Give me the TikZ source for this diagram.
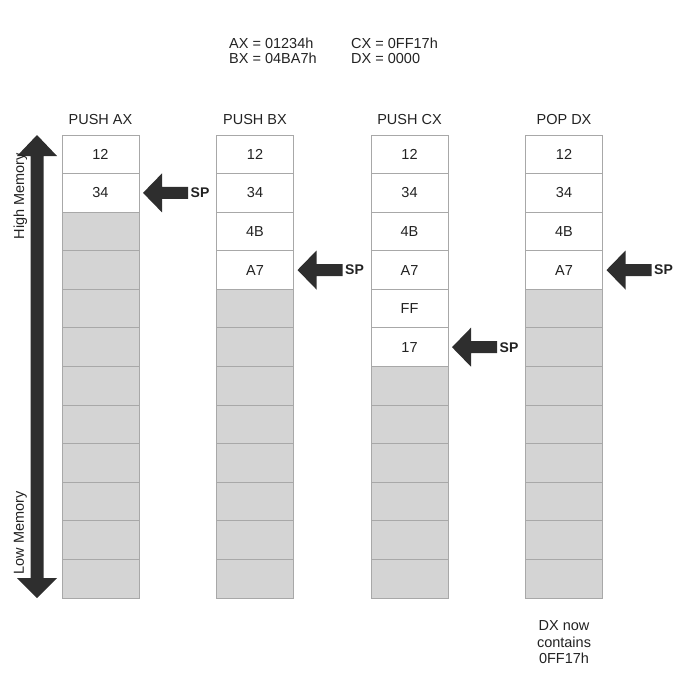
\documentclass[tikz,border=0pt]{standalone}
\usepackage{fontspec}
\setmainfont{Liberation Sans}
\definecolor{cellborder}{HTML}{A8A8A8}
\definecolor{cellgray}{HTML}{D4D4D4}
\definecolor{arrowc}{HTML}{2E2E2E}
\definecolor{txt}{HTML}{222222}
\begin{document}
\begin{tikzpicture}[x=1pt,y=-1pt,
  cell/.style={draw=cellborder, line width=0.9pt, minimum width=77pt, minimum height=38.6pt, inner sep=0pt, outer sep=0pt, font=\fontsize{14.5}{16}\selectfont, text=txt},
  fullcell/.style={cell, fill=white},
  emptycell/.style={cell, fill=cellgray},
  lbl/.style={font=\fontsize{14.5}{16.5}\selectfont, text=txt, inner sep=0pt},
  splbl/.style={font=\fontsize{14}{15}\selectfont\bfseries, text=txt, inner sep=0pt, anchor=west},
  ptr/.style={fill=arrowc}]
\useasboundingbox (0,0) rectangle (679,675);

% register values
\node[lbl, anchor=base west] (ax) at (229,48) {AX = 01234h};
\node[lbl, anchor=base west] (bx) at (229,63.5) {BX = 04BA7h};
\node[lbl, anchor=base west] (cx) at (351,48) {CX = 0FF17h};
\node[lbl, anchor=base west] (dx) at (351,63.5) {DX = 0000};

% column headers
\node[lbl, anchor=base] (h1) at (100.5,124.5) {PUSH AX};
\node[lbl, anchor=base] (h2) at (255,124.5) {PUSH BX};
\node[lbl, anchor=base] (h3) at (409.5,124.5) {PUSH CX};
\node[lbl, anchor=base] (h4) at (564,124.5) {POP DX};

% empty cells
\foreach \c/\x in {1/100.5,2/255,3/409.5,4/564}{
  \foreach \r [evaluate=\r as \y using 135+(\r-0.5)*38.58] in {1,...,12}{
    \node[emptycell] (c\c-\r) at (\x,\y) {};
  }
}
% filled cells
\foreach \c/\x/\vals in {1/100.5/{12,34},2/255/{12,34,4B,A7},3/409.5/{12,34,4B,A7,FF,17},4/564/{12,34,4B,A7}}{
  \foreach \v [count=\r, evaluate=\r as \y using 135+(\r-0.5)*38.58] in \vals{
    \node[fullcell] (c\c-\r) at (\x,\y) {\v};
  }
}

% stack pointer arrows
\foreach \c/\r in {1/2,2/4,3/6,4/4}{
  \fill[ptr] ([xshift=4pt]c\c-\r.east) -- ++(19,-19.5) -- ++(0,13.5) -- ++(26,0) -- ++(0,12) -- ++(-26,0) -- ++(0,13.5) -- cycle;
  \node[splbl] (sp\c) at ([xshift=51.5pt]c\c-\r.east) {SP};
}

% memory direction arrow
\fill[ptr] (37,135) -- (57,156) -- (43.5,156) -- (43.5,578) -- (57,578) -- (37,598) -- (17,578) -- (30.5,578) -- (30.5,156) -- (17,156) -- cycle;
\node[lbl, rotate=90] (hi) at (20.5,196) {High Memory};
\node[lbl, rotate=90] (lo) at (20.5,533) {Low Memory};

% note
\node[lbl, align=center, anchor=north] (note) at (564,620.6) {DX now\\contains\\0FF17h};
\end{tikzpicture}
\end{document}
